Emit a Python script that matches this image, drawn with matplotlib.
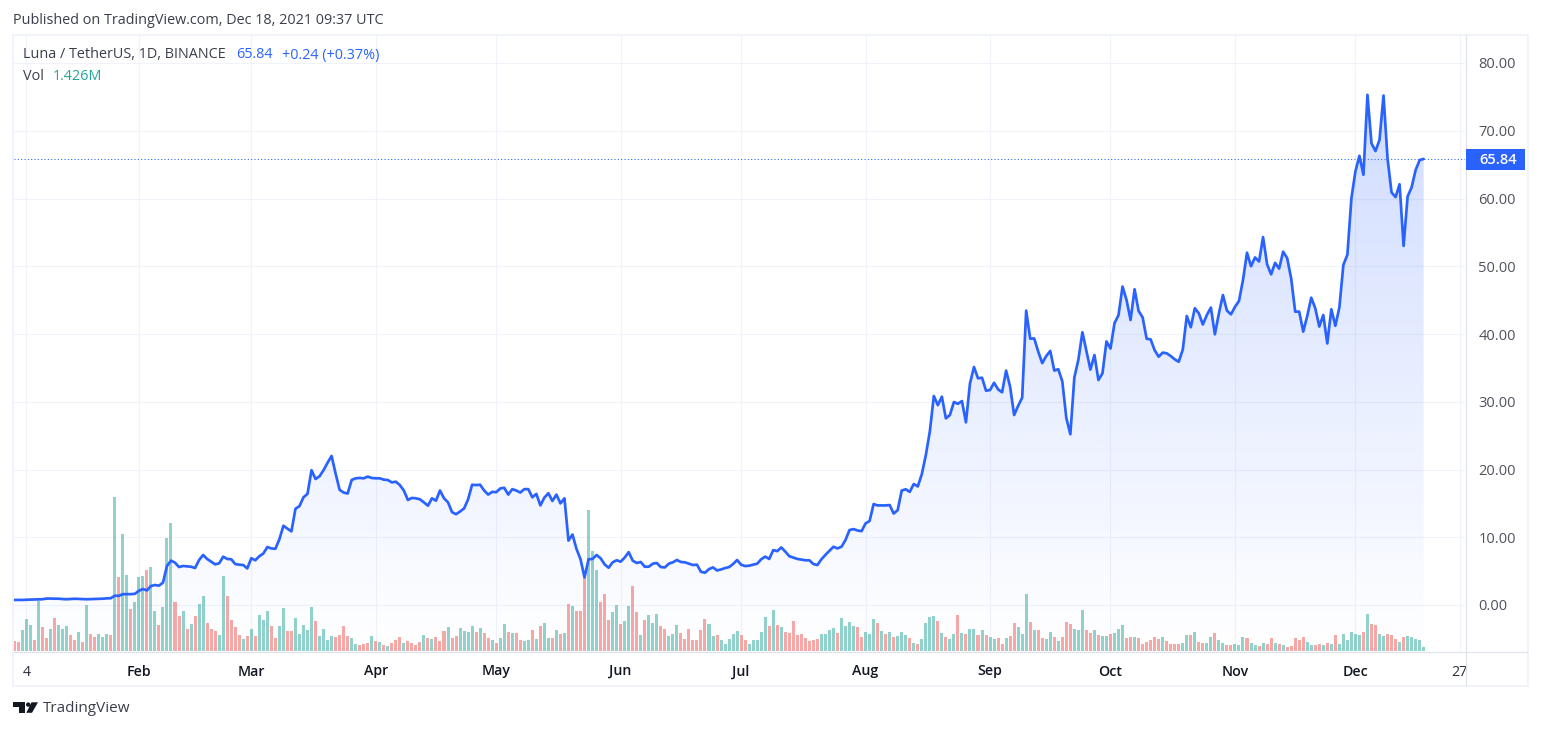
import matplotlib
matplotlib.use("Agg")
import matplotlib.pyplot as plt
import numpy as np
from matplotlib.patches import Rectangle, Polygon
from matplotlib.lines import Line2D

FONT = "Open Sans"
plt.rcParams["font.family"] = [FONT, "DejaVu Sans"]

# daily close, one value per day from 1 Jan 2021
close = [
 0.75,0.75,0.75,0.78,0.8,0.82,0.85,0.85,0.95,0.95,0.93,0.93,0.88,0.85,0.88,0.92,0.9,0.88,0.85,0.87,
 0.88,0.92,0.93,0.98,1.0,1.37,1.35,1.6,1.6,1.6,1.65,2.1,2.36,2.15,2.8,2.95,2.85,3.3,5.76,6.55,
 6.25,5.6,5.76,5.7,5.65,5.46,6.64,7.38,6.8,6.4,
 6.0,6.15,7.13,6.8,6.75,6.05,5.95,5.9,5.4,6.9,
 6.6,7.2,7.6,8.55,8.35,8.3,9.7,11.7,11.27,10.87,
 14.2,14.6,15.9,16.4,19.9,18.6,19.0,19.9,21,22.0,
 19.4,17,16.6,16.45,18.45,18.7,18.75,18.7,18.95,18.75,
 18.7,18.7,18.5,18.45,18.1,18.2,17.7,16.9,15.5,15.8,
 15.75,15.6,15.15,14.66,15.75,15.4,16.9,15.75,15.15,13.7,
 13.4,13.8,14.25,15.6,17.75,17.7,17.75,16.9,16.3,16.7,
 16.65,17.2,17.3,16.3,17.1,16.9,16.6,17.1,17.1,15.9,
 16.4,14.7,15.85,16.5,15.35,16.3,15,15.75,9.5,10.4,
 8.27,6.75,4.08,6.75,6.8,7.38,6.9,6.0,5.5,6.3,
 6.6,6.4,7.0,7.8,6.55,6.2,6.35,5.65,5.65,6.1,
 6.2,5.6,5.55,6.1,6.3,6.64,6.35,6.3,6.1,5.9,
 5.95,4.9,4.77,5.3,5.55,5.1,5.25,5.45,5.6,6.05,
 6.64,5.95,5.75,5.8,5.95,6.1,6.75,7.14,6.8,8.1,
 7.95,8.5,7.88,7.2,7.0,6.8,6.7,6.6,6.6,6.05,
 5.9,6.75,7.4,8.0,8.6,8.35,8.6,9.6,11.07,11.2,
 11.0,10.9,12.05,12.4,14.9,14.7,14.7,14.7,14.75,13.5,
 14.0,16.9,17.08,16.7,17.86,17.5,19.3,22.1,25.6,30.85,
 29.5,30.75,27.55,28.04,29.96,29.7,30.1,26.96,32.7,35.13,
 33.46,33.55,31.63,31.73,32.8,31.83,31.4,34.6,32.2,28.04,
 29.4,30.6,43.45,39.3,39.35,37.4,35.7,36.75,37.5,34.6,
 34.8,33,27.6,25.2,33.6,36.2,40.25,37.5,34.75,36.9,
 33.2,34.2,38.9,37.85,41.6,42.8,47,45,42.07,46.6,
 43.4,42.46,39.3,39.2,37.6,36.65,37.25,37.15,36.75,36.26,
 35.9,37.7,42.65,41,43.8,43.05,41.4,42.8,43.9,39.95,
 43.05,45.75,43.45,42.9,44,44.87,47.97,52,50,51.3,
 50.7,54.3,50.3,48.8,50.5,49.65,52.15,51.2,48.2,43.3,
 43.3,40.35,42.65,45.36,43.8,41.1,42.8,38.6,43.65,41.2,
 43.9,50.2,51.7,60,64,66.3,63.5,75.3,68.15,67,
 68.65,75.2,65.9,60.9,60.2,62.1,53,60.3,61.65,64.2,
 65.68,65.84,
]

# daily volume, millions
volume = [
 3.3,3.0,7.0,10.7,8.7,3.7,16.7,8.0,4.3,7.3,
 11,8.7,7.3,8.3,5.3,3.7,6.3,3.0,15.3,5.7,
 4.7,5.7,4.7,5.7,5.3,51.2,24.7,39,25.3,14,
 16.3,24.7,25,27,28,13.3,8.7,14.7,37.7,42.7,
 16.3,11.7,13.3,7.3,9,11.7,15.7,18.3,9.3,7.3,
 6.7,5.3,25,18.3,10.3,8,5.3,4,5,7.3,
 5,12,10.3,13.3,8.3,4.3,8.3,14.3,6.7,6.7,
 11,5.7,8.7,7,14.7,10,5,7.3,3.7,5,
 4.7,5.3,8.3,5,4.3,2.3,2,2.3,2.7,5,
 3.3,3,2,1.7,2.7,3.7,4.7,2.7,3.3,2.7,
 2,3,5.3,4.3,4,4.7,3.3,6.7,8,4.3,
 5,7.7,6.7,6.3,8.3,6.3,7.7,6,4.3,3.7,
 2.7,4.3,9,6.3,6,6,3.7,3.3,3.7,7,
 4,8.3,9.3,4.3,4.3,7,5.7,6,15.7,15,
 13.3,13.3,24.7,47,33.3,27,16.3,19,10.3,13,
 15.3,9,10,15,21.7,13,5.3,10.3,12,9.3,
 12.3,8.3,7.3,5,5.7,8.7,6,4,7.3,3.7,
 3.7,7,10.7,9,5,5.3,3.7,2.3,4,5.7,
 6.7,5.3,3.7,2.3,3.7,3.7,6.3,11.3,8.3,13.7,
 8.7,8,6.3,6,10,5.3,5.7,4.3,3.3,3.7,
 4,5.7,5.7,7,7.7,6,11,8.3,9.7,8.3,
 8,4.7,6.3,5.7,10.7,9.3,6.7,5.7,6.3,4.7,
 5,6.3,5.3,4.3,2.7,2.3,4,9.3,11.3,11.7,
 10,6,4.7,4,5.7,12,6,5.7,7.3,7.3,
 5.3,7,5.3,4.7,4,4.3,2.3,4.3,5,9.3,
 8,5.7,19,9.7,7,7,4.3,4,6.3,4.7,
 3.3,4.7,9.7,9,7.3,7,13.7,7,6,7,
 5.3,5,5,5.7,6,7.3,8.7,4.3,4.7,4.7,
 4.3,2.3,3,3.7,4.7,4,4.7,3.3,2.3,2.3,
 2.3,2.7,5.3,5.3,6.3,3,2.7,2.7,4.7,6,
 3.7,2.7,2,2,2.3,2,4.7,4.3,2.7,2,
 1.7,2.7,2.3,4.3,2.7,2.3,2,1.3,1.7,4.3,
 3.7,4.7,3,2,2,2.3,2,2.7,2.3,5.3,
 2.3,5.7,3.7,6.3,5.7,5.3,6.3,12.3,9,8.7,
 5.7,5,5.7,5.3,4,3,4.7,5,4.7,4,3.7,1.426,
]

# volume bar direction: g = up day, r = down day
direction = (
 "rrgggrgrrg" "rgggrrgrgr" "rgggrgrggr" "gggrggrggg" "rrgrgrggrr"
 "rggrrrrgrg" "rgggrrggrr" "gggggrgggg" "rrrrggrrrg" "rgrgrrrgrr"
 "rrgrgrrrgr" "rggggrgrrg" "rggrgrrggr" "grggrgrgrg" "rrrgggrrrg"
 "grggrrgrgg" "grrgggrrrr" "rrrggrgggg" "grrgggggrg" "rgrrrrrrrr"
 "rggggrgggg" "rrgggrgrgr" "gggrgrgggg" "rgrggrgrgg" "rgrggrrgrr"
 "gggrgrrggr" "grrrgggrrg" "rggrgggrrg" "rrrrrrgrrr" "rggrgrrggr"
 "ggrrgggrg"  "grgrrgrgrrr" "rrggrrgrgr" "ggggggrgrr" "ggrrrgrggggg"
)

tick_days = [3, 31, 59, 90, 120, 151, 181, 212, 243, 273, 304, 334, 360]
tick_labels = ["4", "Feb", "Mar", "Apr", "May", "Jun", "Jul", "Aug", "Sep", "Oct", "Nov", "Dec", "27"]
price_ticks = [0, 10, 20, 30, 40, 50, 60, 70, 80]
last_price = 65.84

assert len(close) == 352 and len(volume) == 352 and len(direction) == 352, (len(close), len(volume), len(direction))

W, H = 1541, 730
def fx(x): return x / W
def fy(y): return 1 - y / H

fig = plt.figure(figsize=(W / 100, H / 100), dpi=100, facecolor="white")
L, R, T, B = 14, 1465, 35, 652
rect = [fx(L), fy(B), (R - L) / W, (B - T) / H]
X0, PXD = 14.4, 4.015
xlim = ((L - X0) / PXD, (R - X0) / PXD)
ylim = ((605 - B) / 6.775, (605 - T) / 6.775)
days = np.arange(len(close))
close_arr = np.array(close)

BLUE = "#2962ff"
GRID = "#f0f3fa"
AXLN = "#e0e3eb"
LBL = "#50535e"
TXT = "#3a3e4a"

# price pane: grid and gradient area
ax = fig.add_axes(rect, zorder=1)
ax.set_xlim(xlim); ax.set_ylim(ylim)
ax.set_xticks(tick_days, tick_labels)
ax.set_yticks(price_ticks, [f"{p:.2f}" for p in price_ticks])
ax.yaxis.tick_right()
ax.tick_params(axis="x", length=0, pad=9, labelsize=10.2, labelcolor="#131722")
ax.tick_params(axis="y", length=0, pad=9.6, labelsize=10.5, labelcolor=LBL)
ax.grid(True, color=GRID, lw=0.75)
ax.set_axisbelow(True)
for s in ax.spines.values():
    s.set_visible(False)
for lab, d in zip(ax.get_xticklabels(), tick_days):
    if d in (3, 360):
        lab.set_color("#2a2e39")
    else:
        lab.set_fontweight("semibold")

g = np.zeros((256, 2, 4))
g[..., 0] = 41 / 255; g[..., 1] = 98 / 255; g[..., 2] = 1.0
g[..., 3] = np.linspace(0.22, 0.0, 256)[:, None]
top_v = (605 - 95) / 6.775
img = ax.imshow(g, extent=(xlim[0], xlim[1], ylim[0], top_v), origin="upper", aspect="auto", zorder=1.5,
                interpolation="bilinear")
verts = np.column_stack([np.r_[days[0], days, days[-1]], np.r_[ylim[0], close_arr, ylim[0]]])
clip = Polygon(verts, closed=True, transform=ax.transData, fc="none", ec="none")
ax.add_patch(clip)
img.set_clip_path(clip)
ax.set_xlim(xlim); ax.set_ylim(ylim)

# volume pane
axv = fig.add_axes(rect, zorder=2)
axv.patch.set_alpha(0)
axv.set_xlim(xlim)
axv.set_ylim(-1 / 3, (651 - T) / 3)
axv.axis("off")
colors = ["#26a69a" if c == "g" else "#ef5350" for c in direction]
axv.bar(days, volume, width=0.75, color=colors, alpha=0.5, linewidth=0)

# line pane
axl = fig.add_axes(rect, zorder=3)
axl.patch.set_alpha(0)
axl.set_xlim(xlim); axl.set_ylim(ylim)
axl.axis("off")
axl.plot(days, close_arr, color=BLUE, lw=1.95, solid_joinstyle="round", solid_capstyle="round")
axl.axhline(last_price, color=BLUE, lw=0.75, ls=(0, (1, 2.2)))

# frame, axis lines
def frect(x0, y0, x1, y1, **kw):
    fig.add_artist(Rectangle((fx(x0), fy(y1)), (x1 - x0) / W, (y1 - y0) / H, transform=fig.transFigure, **kw))
def fline(x0, y0, x1, y1, **kw):
    fig.add_artist(Line2D([fx(x0), fx(x1)], [fy(y0), fy(y1)], transform=fig.transFigure, **kw))

frect(13, 34.5, 1528, 686, fc="none", ec=GRID, lw=1.4, zorder=5)
fline(14, 652, 1527, 652, color=AXLN, lw=0.9, zorder=5)
# clip the last tick label at the price axis
frect(1466.5, 660, 1480, 680, fc="white", ec="none", zorder=4)
fline(1466, 35, 1466, 685, color=AXLN, lw=0.9, zorder=5)

# last-price label
frect(1466, 149, 1525, 170, fc=BLUE, ec="none", zorder=6)
fig.text(fx(1479), fy(159.8), f"{last_price:.2f}", color="white", fontsize=10.5, fontweight="semibold",
         va="center", ha="left", zorder=7)

# texts
def t(x, y, s, color, size=10.4, **kw):
    fig.text(fx(x), fy(y), s, color=color, fontsize=size, va="center", ha="left", zorder=7, **kw)

t(13, 20.5, "Published on TradingView.com, Dec 18, 2021 09:37 UTC", TXT)
t(23, 55, "Luna / TetherUS, 1D, BINANCE", TXT)
t(236, 55, "65.84", BLUE)
t(282, 55, "+0.24 (+0.37%)", BLUE)
t(23, 76, "Vol", TXT)
t(53, 76, "1.426M", "#26a69a")
t(43, 709, "TradingView", TXT, 11)

# logo
LOGO = "#131722"
def poly(pts):
    fig.add_artist(Polygon([(fx(a), fy(b)) for a, b in pts], transform=fig.transFigure, fc=LOGO, ec="none"))
poly([(13.2, 702.3), (25, 702.3), (25, 712.8), (18.5, 712.8), (18.5, 706.8), (13.2, 706.8)])
poly([(31.5, 702.3), (38, 702.3), (32, 712.8), (26.3, 712.8)])
poly([(28.2 + 2.2 * np.cos(a), 704.6 + 2.2 * np.sin(a)) for a in np.linspace(0, 2 * np.pi, 24)])

fig.savefig("out.png", dpi=100)
